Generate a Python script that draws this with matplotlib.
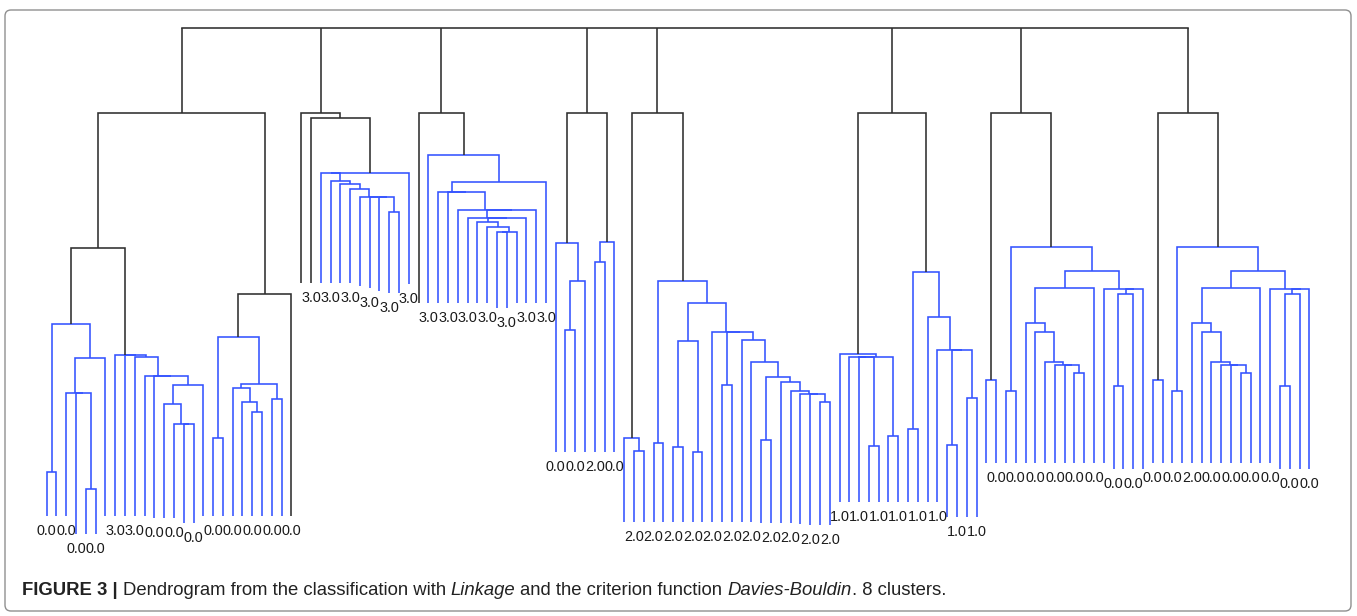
import matplotlib
matplotlib.use("Agg")
import matplotlib.pyplot as plt
from matplotlib.patches import FancyBboxPatch
from matplotlib.transforms import IdentityTransform

W, H = 1357, 616

# height where the eight clusters are joined
top_height = 5.32

# blue sub-trees: (merge height, left, right); ints are leaf positions
c1_a = (2.36, (0.88, 0, 1), (2.02, (1.67, 2, (1.67, 3, (0.71, 4, 5))), 6))
c1_b = (2.05, 7, (2.05, 8, (2.03, 9, (1.84, 10, (1.84, 11, (1.75, (1.56, 12, (1.36, 13, (1.36, 14, 15))), 16))))))
c1_c = (2.23, (1.22, 17, 18), (1.76, (1.72, 19, (1.58, 20, (1.48, 21, 22))), (1.61, 23, 24)))
c2_a = (3.87, (3.87, 28, (3.79, 29, (3.76, 30, (3.71, 31, (3.63, 32, (3.63, 33, (3.63, 34, (3.48, 35, 36)))))))), 37)
c3_a = (4.05, 39, (3.78, (3.68, 40, (3.68, 41, (3.50, 42, (3.50, (3.42, 43, (3.42, (3.38, 44, (3.33, 45, (3.28, (3.28, 46, 47), 48))), 49)), 50)))), 51))
c4_a = (3.17, 52, (2.79, (2.30, 53, 54), 55))
c4_b = (3.18, (2.98, 56, 57), 58)
c5_a = (1.22, 59, (1.09, 60, 61))
c5_b = (2.79, (1.17, 62, 63), (2.57, (2.19, (1.13, 64, 65), (1.08, 66, 67)),
        (2.28, 68, (2.28, (1.75, 69, 70), (2.20, 71, (1.98, 72, (1.83, (1.20, 73, 74),
        (1.78, 75, (1.69, 76, (1.66, 77, (1.66, 78, (1.58, 79, 80))))))))))))
c6_a = (2.06, 81, (2.03, (2.03, 82, (2.03, 83, (1.14, 84, 85))), (1.24, 86, 87)))
c6_b = (2.88, (1.31, 88, 89), (2.43, 90, (2.10, 91, (2.10, (1.15, 92, 93), (1.62, 94, 95)))))
c7_a = (1.80, 96, 97)
c7_b = (3.13, (1.69, 98, 99), (2.89, (2.72, (2.37, 100, (2.28, 101, (1.98, 102, (1.95, 103, (1.95, 104, (1.87, 105, 106)))))), 107),
        (2.71, 108, (2.71, (2.66, (1.74, 109, 110), 111), 112))))
c8_a = (1.80, 113, 114)
c8_b = (3.13, (1.69, 115, 116), (2.89, (2.72, (2.37, 117, (2.28, 118, (1.98, 119, (1.95, 120, (1.95, 121, (1.87, 122, 123)))))), 124),
        (2.71, 125, (2.71, (2.66, (1.74, 126, 127), 128), 129))))

blue_groups = [c1_a, c1_b, c1_c, c2_a, c3_a, c4_a, c4_b, c5_a, c5_b,
               c6_a, c6_b, c7_a, c7_b, c8_a, c8_b]

# upper (black) part of every cluster
clusters = [
    (4.47, (3.12, c1_a, c1_b), (2.66, c1_c, 25)),
    (4.47, 26, (4.42, 27, c2_a)),
    (4.47, 38, c3_a),
    (4.47, c4_a, c4_b),
    (4.47, c5_a, c5_b),
    (4.47, c6_a, c6_b),
    (4.47, c7_a, c7_b),
    (4.47, c8_a, c8_b),
]

# where each leaf line stops
leaf_end = ([0.44] * 3 + [0.26] * 3 + [0.44] * 5 + [0.42] * 3 + [0.37] * 2 + [0.44] * 10
            + [2.77] * 6 + [2.74, 2.72, 2.69, 2.67, 2.67, 2.76]
            + [2.57] * 8 + [2.52] * 2 + [2.57] * 4
            + [1.08] * 7
            + [0.38] * 14 + [0.37] * 4 + [0.36] + [0.35] * 3
            + [0.58] * 11 + [0.43] * 4
            + [0.97] * 13 + [0.91] * 4
            + [0.97] * 13 + [0.91] * 4)

leaf_labels = (['0.0'] * 7 + ['3.0'] * 3 + ['0.0'] * 16
               + ['3.0'] * 12
               + ['3.0'] * 14
               + ['0.0'] * 4 + ['2.0'] * 2 + ['0.0']
               + ['2.0'] * 22
               + ['1.0'] * 15
               + ['0.0'] * 17
               + ['0.0'] * 4 + ['2.0'] + ['0.0'] * 12)

caption_parts = [
    ("FIGURE 3 |", "bold"),
    ("Dendrogram from the classification with", "normal"),
    ("Linkage", "italic"),
    ("and the criterion function", "normal"),
    ("Davies-Bouldin", "italic"),
    (". 8 clusters.", "normal"),
]

BLUE = "#3352ff"
BLACK = "#2e2e2e"
FONT = "Liberation Sans"

fig = plt.figure(figsize=(W / 100, H / 100), dpi=100)
ax = fig.add_axes([0, 0, 1, 1])
ax.set_xlim(-46.7 / 9.788, (W - 46.7) / 9.788)
ax.set_ylim(-0.56, 5.6)
ax.axis("off")


def draw(node, colour):
    if isinstance(node, int):
        return node, leaf_end[node]
    h, left, right = node
    if node in blue_groups:
        colour = BLUE
    xl, hl = draw(left, colour)
    xr, hr = draw(right, colour)
    ax.plot([xl, xl, xr, xr], [hl, h, h, hr], color=colour, lw=1.15,
            solid_joinstyle="miter", solid_capstyle="butt")
    return (xl + xr) / 2, h


tops = [draw(c, BLACK) for c in clusters]
for x, h in tops:
    ax.plot([x, x], [h, top_height], color=BLACK, lw=1.15, solid_capstyle="butt")
ax.plot([tops[0][0], tops[-1][0]], [top_height, top_height], color=BLACK, lw=1.15,
        solid_capstyle="projecting")

# leaf labels, skipped when they would collide with one already placed
fig.canvas.draw()
renderer = fig.canvas.get_renderer()
placed = []
tol = 1.5
for i in reversed(range(len(leaf_labels))):
    t = ax.text(i, leaf_end[i] - 0.19, leaf_labels[i], ha="center", va="baseline",
                fontsize=10.4, family=FONT, color="#1a1a1a")
    bb = t.get_window_extent(renderer=renderer)
    hit = any(bb.x0 < p.x1 - tol and p.x0 < bb.x1 - tol and
              bb.y0 < p.y1 - tol and p.y0 < bb.y1 - tol for p in placed)
    if hit:
        t.remove()
    else:
        placed.append(bb)

# frame around the figure panel
frame = FancyBboxPatch((5, H - 611), 1346, 601, boxstyle="round,pad=0,rounding_size=6",
                       transform=IdentityTransform(), fill=False, ec="#8f8f8f", lw=1.0)
fig.add_artist(frame)

# caption, written piece by piece
x = 22
space = 5.0
for text, style in caption_parts:
    t = fig.text(x / W, 21 / H, text, fontsize=13.3, family=FONT, color="#222222",
                 weight="bold" if style == "bold" else "normal",
                 style="italic" if style == "italic" else "normal",
                 ha="left", va="baseline")
    bb = t.get_window_extent(renderer=renderer)
    x = bb.x1 + space
    if text == "Davies-Bouldin":
        x -= space

fig.savefig("out.png", dpi=100)
